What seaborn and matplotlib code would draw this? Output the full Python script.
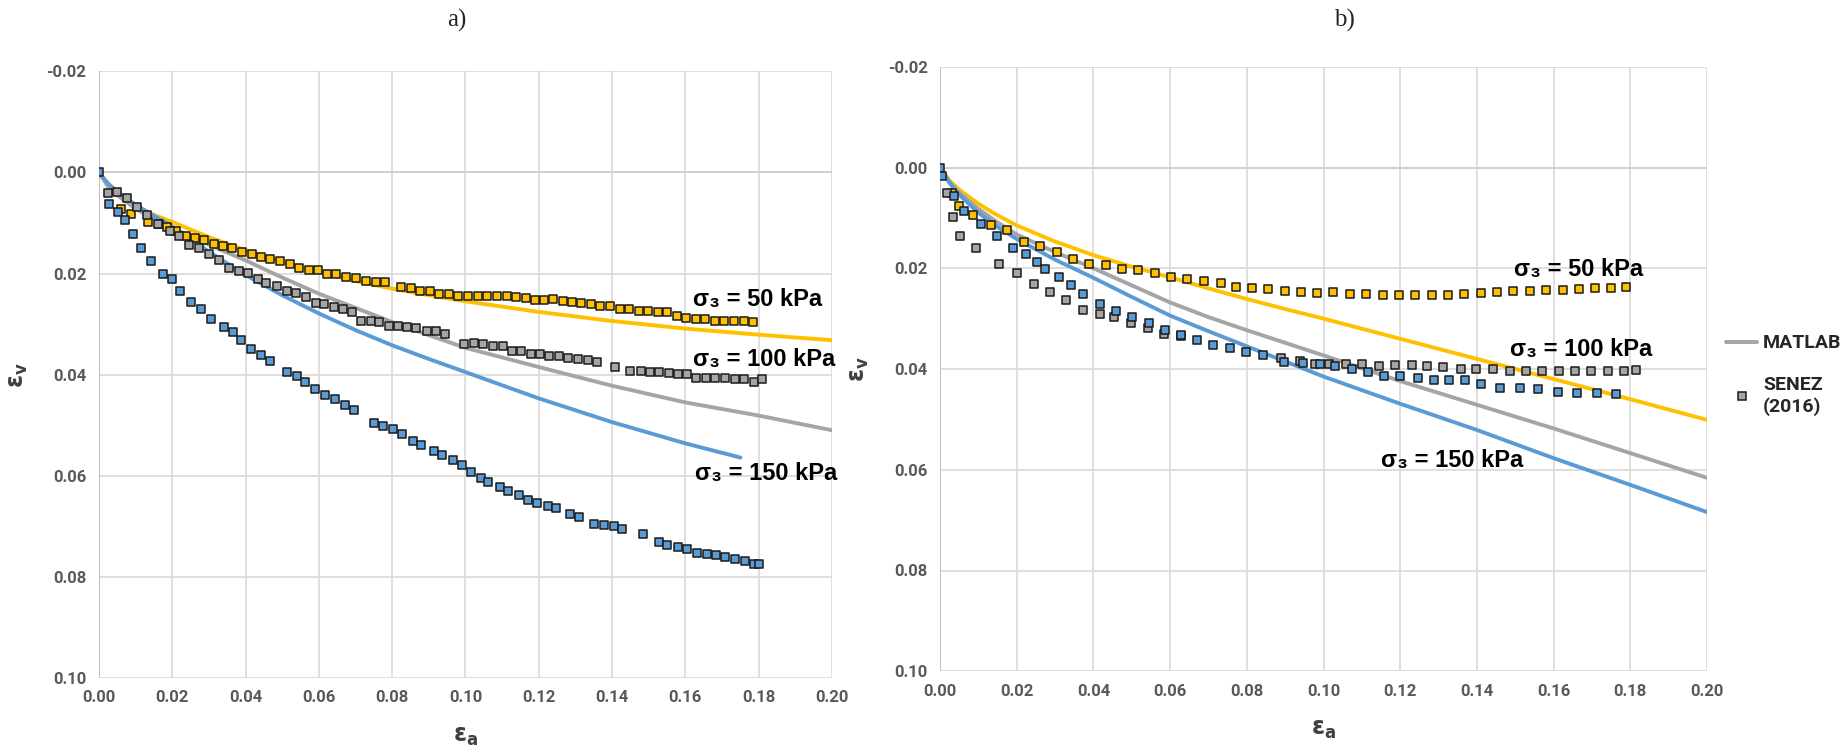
import numpy as np
import pandas as pd
import matplotlib
matplotlib.use("Agg")
import matplotlib.pyplot as plt
import seaborn as sns
from matplotlib.lines import Line2D

# ---- data ----
# model curves (MATLAB)
line_x = [0, 0.0025, 0.005, 0.01, 0.015, 0.02, 0.03, 0.04, 0.05, 0.06, 0.07,
          0.08, 0.09, 0.10, 0.12, 0.14, 0.16, 0.18, 0.20]
a_line_50 = [0, 0.0027, 0.0045, 0.0068, 0.0084, 0.0098, 0.0128, 0.0154, 0.0177, 0.0197, 0.0215,
             0.023, 0.0243, 0.0255, 0.0276, 0.0294, 0.0309, 0.0321, 0.0332]
a_line_100 = [0, 0.0028, 0.0045, 0.0072, 0.0092, 0.011, 0.0143, 0.0174, 0.0208, 0.024, 0.0268,
              0.0296, 0.0322, 0.0347, 0.0385, 0.0422, 0.0455, 0.0481, 0.051]
a_line_150_x = [0, 0.0025, 0.005, 0.01, 0.015, 0.02, 0.03, 0.04, 0.05, 0.06, 0.07,
                0.08, 0.09, 0.10, 0.12, 0.14, 0.16, 0.175]
a_line_150 = [0, 0.0022, 0.0038, 0.0064, 0.0086, 0.0107, 0.0157, 0.0203, 0.0243, 0.0279, 0.0312,
              0.0342, 0.0369, 0.0395, 0.0447, 0.0494, 0.0536, 0.0564]

b_line_50 = [0, 0.0026, 0.0044, 0.0072, 0.0095, 0.0115, 0.0147, 0.0174, 0.0197, 0.0218, 0.024,
             0.0261, 0.0281, 0.030, 0.034, 0.038, 0.042, 0.046, 0.0501]
b_line_100 = [0, 0.0029, 0.005, 0.0082, 0.0109, 0.0133, 0.0168, 0.02, 0.0234, 0.0268, 0.0297,
              0.0323, 0.0348, 0.0373, 0.0424, 0.0471, 0.0518, 0.0567, 0.0616]
b_line_150 = [0, 0.0031, 0.0054, 0.009, 0.0118, 0.0142, 0.0183, 0.0219, 0.0257, 0.0294, 0.0325,
              0.0355, 0.0385, 0.0415, 0.0469, 0.0521, 0.0577, 0.063, 0.0684]

# test data SENEZ (2016), panel a
a_pts_50_x = [0.006, 0.0088, 0.0135, 0.0163, 0.0185, 0.0211, 0.0237, 0.0262, 0.0288, 0.0313, 0.0338,
              0.0363, 0.039, 0.0417, 0.0443, 0.0468, 0.0495, 0.052, 0.0547, 0.0572, 0.0597, 0.0623,
              0.0648, 0.0675, 0.0702, 0.0728, 0.0755, 0.078, 0.0825, 0.0851, 0.0877, 0.0902, 0.0929,
              0.0954, 0.098, 0.1007, 0.1034, 0.106, 0.1085, 0.1112, 0.1139, 0.1164, 0.1189, 0.1214,
              0.1239, 0.1266, 0.1291, 0.1316, 0.1342, 0.1367, 0.1394, 0.1421, 0.1446, 0.1472, 0.1499,
              0.1524, 0.1551, 0.1577, 0.1602, 0.1629, 0.1654, 0.1681, 0.1706, 0.1732, 0.1759, 0.1784]
a_pts_50_y = [0.0073, 0.0082, 0.0099, 0.0103, 0.0109, 0.0115, 0.0125, 0.013, 0.0134, 0.0141, 0.0146,
              0.015, 0.0157, 0.0162, 0.0168, 0.0171, 0.0176, 0.0182, 0.019, 0.0193, 0.0193, 0.02,
              0.02, 0.0206, 0.0208, 0.0214, 0.0216, 0.0216, 0.0227, 0.0228, 0.0235, 0.0235, 0.024,
              0.0241, 0.0244, 0.0244, 0.0244, 0.0244, 0.0244, 0.0244, 0.0247, 0.0249, 0.0252, 0.0253,
              0.0251, 0.0255, 0.0256, 0.0258, 0.026, 0.0264, 0.0265, 0.027, 0.0271, 0.0274, 0.0275,
              0.0276, 0.0276, 0.0284, 0.0288, 0.029, 0.029, 0.0294, 0.0294, 0.0294, 0.0294, 0.0295]

a_pts_100_x = [0.0025, 0.005, 0.0077, 0.0103, 0.0132, 0.0161, 0.0193, 0.0219, 0.0246, 0.0272, 0.0299,
               0.0327, 0.0355, 0.0382, 0.0407, 0.0435, 0.0457, 0.0485, 0.0512, 0.0537, 0.0564, 0.0592,
               0.0614, 0.0642, 0.0667, 0.0691, 0.0716, 0.0742, 0.0764, 0.0792, 0.0816, 0.0841, 0.0866,
               0.0894, 0.0919, 0.0944, 0.0996, 0.1023, 0.1049, 0.1074, 0.1101, 0.1126, 0.1151, 0.1178,
               0.1204, 0.1229, 0.1254, 0.1281, 0.1308, 0.1334, 0.1359, 0.1408, 0.145, 0.1478, 0.1502,
               0.1528, 0.1555, 0.158, 0.1605, 0.163, 0.1657, 0.1682, 0.1708, 0.1735, 0.176, 0.1787, 0.1809]
a_pts_100_y = [0.004, 0.0038, 0.0051, 0.0068, 0.0084, 0.0102, 0.0116, 0.0126, 0.0144, 0.0149, 0.0161,
               0.0174, 0.019, 0.0195, 0.0199, 0.021, 0.0218, 0.0225, 0.0234, 0.0239, 0.0247, 0.0258,
               0.026, 0.0267, 0.027, 0.0277, 0.0294, 0.0294, 0.0296, 0.0303, 0.0303, 0.0306, 0.0307,
               0.0314, 0.0314, 0.0319, 0.0339, 0.0338, 0.034, 0.0343, 0.0344, 0.0353, 0.0354, 0.0359,
               0.0359, 0.0363, 0.0363, 0.0367, 0.0369, 0.0371, 0.0375, 0.0385, 0.0393, 0.0392, 0.0394,
               0.0395, 0.0397, 0.0398, 0.0398, 0.0406, 0.0407, 0.0407, 0.0406, 0.0408, 0.0408, 0.0414, 0.0409]

a_pts_150_x = [0, 0.0028, 0.0052, 0.0072, 0.0092, 0.0116, 0.0141, 0.0175, 0.02, 0.0222, 0.0252, 0.0279,
               0.0307, 0.034, 0.0365, 0.0388, 0.0415, 0.0443, 0.0468, 0.0514, 0.054, 0.0562, 0.059,
               0.0617, 0.0644, 0.0672, 0.0695, 0.075, 0.0774, 0.0802, 0.0827, 0.0858, 0.088, 0.0913,
               0.0935, 0.0965, 0.0991, 0.1015, 0.1043, 0.1062, 0.1093, 0.1117, 0.1145, 0.117, 0.1195,
               0.1226, 0.1247, 0.1286, 0.1309, 0.135, 0.1378, 0.1405, 0.1428, 0.1483, 0.1527, 0.155,
               0.1579, 0.1604, 0.1632, 0.1658, 0.1683, 0.1707, 0.1735, 0.1763, 0.1787, 0.1801]
a_pts_150_y = [0, 0.0063, 0.0079, 0.0095, 0.0122, 0.0149, 0.0176, 0.0201, 0.0211, 0.0235, 0.0256, 0.027,
               0.0289, 0.0305, 0.0315, 0.0331, 0.035, 0.0361, 0.0373, 0.0394, 0.0403, 0.0415, 0.0429,
               0.044, 0.0448, 0.0461, 0.0469, 0.0495, 0.0501, 0.0507, 0.0518, 0.0532, 0.0539, 0.0551,
               0.0558, 0.0568, 0.0578, 0.0593, 0.0604, 0.0612, 0.0622, 0.0631, 0.0638, 0.0647, 0.0654,
               0.066, 0.0663, 0.0675, 0.0682, 0.0696, 0.0698, 0.07, 0.0706, 0.0715, 0.0732, 0.0737,
               0.074, 0.0744, 0.0753, 0.0755, 0.0757, 0.076, 0.0764, 0.0768, 0.0775, 0.0774]

# test data, panel b
b_pts_50_x = [0.0032, 0.0049, 0.0087, 0.0134, 0.0174, 0.0218, 0.0261, 0.0304, 0.0348, 0.0389, 0.0432,
              0.0474, 0.0515, 0.056, 0.0601, 0.0645, 0.0688, 0.0732, 0.0773, 0.0814, 0.0855, 0.09,
              0.0941, 0.0983, 0.1026, 0.107, 0.1111, 0.1154, 0.1197, 0.1238, 0.1282, 0.1325, 0.1366,
              0.141, 0.1453, 0.1494, 0.1538, 0.1581, 0.1624, 0.1665, 0.1709, 0.175, 0.1788]
b_pts_50_y = [0.005, 0.0077, 0.0095, 0.0115, 0.0125, 0.0147, 0.0156, 0.0168, 0.0181, 0.0191, 0.0194,
              0.0201, 0.0204, 0.021, 0.0217, 0.0221, 0.0225, 0.0229, 0.0237, 0.024, 0.0241, 0.0246,
              0.0248, 0.0249, 0.0248, 0.0251, 0.0251, 0.0253, 0.0253, 0.0253, 0.0253, 0.0253, 0.0251,
              0.0249, 0.0248, 0.0245, 0.0245, 0.0243, 0.0243, 0.0241, 0.024, 0.024, 0.0237]

b_pts_100_x = [0.0017, 0.0034, 0.0053, 0.0095, 0.0154, 0.02, 0.0244, 0.0286, 0.0329, 0.0374, 0.0418,
               0.0454, 0.0498, 0.0543, 0.0584, 0.0628, 0.089, 0.0938, 0.0979, 0.1015, 0.1058, 0.11,
               0.1145, 0.1187, 0.1232, 0.127, 0.1312, 0.1358, 0.1398, 0.1442, 0.1485, 0.1527, 0.157,
               0.1613, 0.1655, 0.1698, 0.1741, 0.1783, 0.1815]
b_pts_100_y = [0.005, 0.0098, 0.0135, 0.0159, 0.0192, 0.0209, 0.0231, 0.0248, 0.0263, 0.0282, 0.0291,
               0.0297, 0.0309, 0.0318, 0.0331, 0.0335, 0.0378, 0.0384, 0.0391, 0.0391, 0.0391, 0.0391,
               0.0394, 0.0393, 0.0393, 0.0394, 0.0396, 0.04, 0.04, 0.04, 0.0403, 0.0403, 0.0403,
               0.0403, 0.0403, 0.0403, 0.0403, 0.0403, 0.0401]

b_pts_150_x = [0, 0.0006, 0.0036, 0.0063, 0.0106, 0.0149, 0.0191, 0.0223, 0.0253, 0.0274, 0.031, 0.0342,
               0.0373, 0.0416, 0.0459, 0.05, 0.0545, 0.0587, 0.0628, 0.067, 0.0713, 0.0757, 0.0798,
               0.0843, 0.0898, 0.0947, 0.099, 0.1031, 0.1074, 0.1116, 0.1157, 0.12, 0.1246, 0.1287,
               0.1327, 0.1369, 0.141, 0.1461, 0.1513, 0.1559, 0.1611, 0.1662, 0.1712, 0.1763]
b_pts_150_y = [0, 0.0017, 0.0057, 0.0087, 0.0113, 0.0135, 0.0159, 0.0171, 0.0187, 0.0202, 0.0217, 0.0233,
               0.0251, 0.0271, 0.0285, 0.0297, 0.0309, 0.0323, 0.0332, 0.0343, 0.0352, 0.0359, 0.0366,
               0.0372, 0.0386, 0.0389, 0.0391, 0.0394, 0.04, 0.0406, 0.0413, 0.0414, 0.0417, 0.0422,
               0.0422, 0.0422, 0.0429, 0.0437, 0.0438, 0.044, 0.0445, 0.0447, 0.0447, 0.045]

a_labels = [("σ₃ = 50 kPa", 0.162, 0.0252), ("σ₃ = 100 kPa", 0.162, 0.0371), ("σ₃ = 150 kPa", 0.1625, 0.0595)]
b_labels = [("σ₃ = 50 kPa", 0.1497, 0.0203), ("σ₃ = 100 kPa", 0.1485, 0.0362), ("σ₃ = 150 kPa", 0.115, 0.0581)]

yellow, grey, blue = "#FFC000", "#A5A5A5", "#5B9BD5"

sns.set_theme(style="white")
plt.rcParams['font.family'] = ['Roboto', 'DejaVu Sans']
plt.rcParams['mathtext.fontset'] = 'dejavusans'

fig = plt.figure(figsize=(18.49, 7.5), dpi=100)
ax_a = fig.add_axes([0.0535, 0.096, 0.3965, 0.809])
ax_b = fig.add_axes([0.5084, 0.105, 0.4148, 0.806])


def draw_panel(ax, lines, points, labels):
    for xs, ys, c in lines:
        sns.lineplot(x=xs, y=ys, ax=ax, color=c, lw=2.8, sort=False, zorder=2)
    for xs, ys, c in points:
        sns.scatterplot(x=xs, y=ys, ax=ax, color=c, marker="s", s=36,
                        edgecolor="#1a1a1a", linewidth=1.1, zorder=3)
    ax.set_xticks(np.arange(0, 0.201, 0.02))
    ax.set_yticks(np.arange(-0.02, 0.101, 0.02))
    ax.xaxis.set_major_formatter(matplotlib.ticker.FormatStrFormatter("%.2f"))
    ax.yaxis.set_major_formatter(matplotlib.ticker.FormatStrFormatter("%.2f"))
    ax.set_xlim(0, 0.2)
    ax.set_ylim(0.10, -0.02)
    ax.grid(True, color="#D9D9D9", lw=1.2)
    ax.set_axisbelow(True)
    for s in ax.spines.values():
        s.set_visible(False)
    ax.axvline(0, color="#BFBFBF", lw=1.4, zorder=1)
    ax.axhline(0, color="#D0D0D0", lw=1.4, zorder=1)
    ax.tick_params(axis="both", length=0, labelsize=12, labelcolor="#595959", pad=9)
    for t in ax.get_xticklabels() + ax.get_yticklabels():
        t.set_fontweight("bold")
    ax.set_xlabel(r"$\mathbf{\epsilon_a}$", fontsize=17, color="#404040", labelpad=14)
    ax.set_ylabel(r"$\mathbf{\epsilon_v}$", fontsize=17, color="#404040", labelpad=12)
    for txt, x, y in labels:
        ax.text(x, y, txt, fontsize=17, fontweight="bold", color="black", va="center", ha="left",
                family=['Liberation Sans', 'DejaVu Sans'], zorder=4)


draw_panel(ax_a,
           [(line_x, a_line_50, yellow), (line_x, a_line_100, grey), (a_line_150_x, a_line_150, blue)],
           [(a_pts_50_x, a_pts_50_y, yellow), (a_pts_100_x, a_pts_100_y, grey), (a_pts_150_x, a_pts_150_y, blue)],
           a_labels)
draw_panel(ax_b,
           [(line_x, b_line_50, yellow), (line_x, b_line_100, grey), (line_x, b_line_150, blue)],
           [(b_pts_50_x, b_pts_50_y, yellow), (b_pts_100_x, b_pts_100_y, grey), (b_pts_150_x, b_pts_150_y, blue)],
           b_labels)

fig.text(0.247, 0.973, "a)", fontsize=18, family="Liberation Serif", ha="center", va="center")
fig.text(0.727, 0.973, "b)", fontsize=18, family="Liberation Serif", ha="center", va="center")

handles = [Line2D([0], [0], color=grey, lw=2.8),
           Line2D([0], [0], color=grey, lw=0, marker="s", markersize=6,
                  markeredgecolor="#1a1a1a", markeredgewidth=1.1)]
fig.legend(handles, ["MATLAB", "SENEZ\n(2016)"], loc="center left", bbox_to_anchor=(0.924, 0.5),
           frameon=False, prop={"weight": "bold", "size": 14}, handlelength=1.6, handletextpad=0.3,
           labelspacing=1.2)

fig.savefig("out.png", dpi=100)
